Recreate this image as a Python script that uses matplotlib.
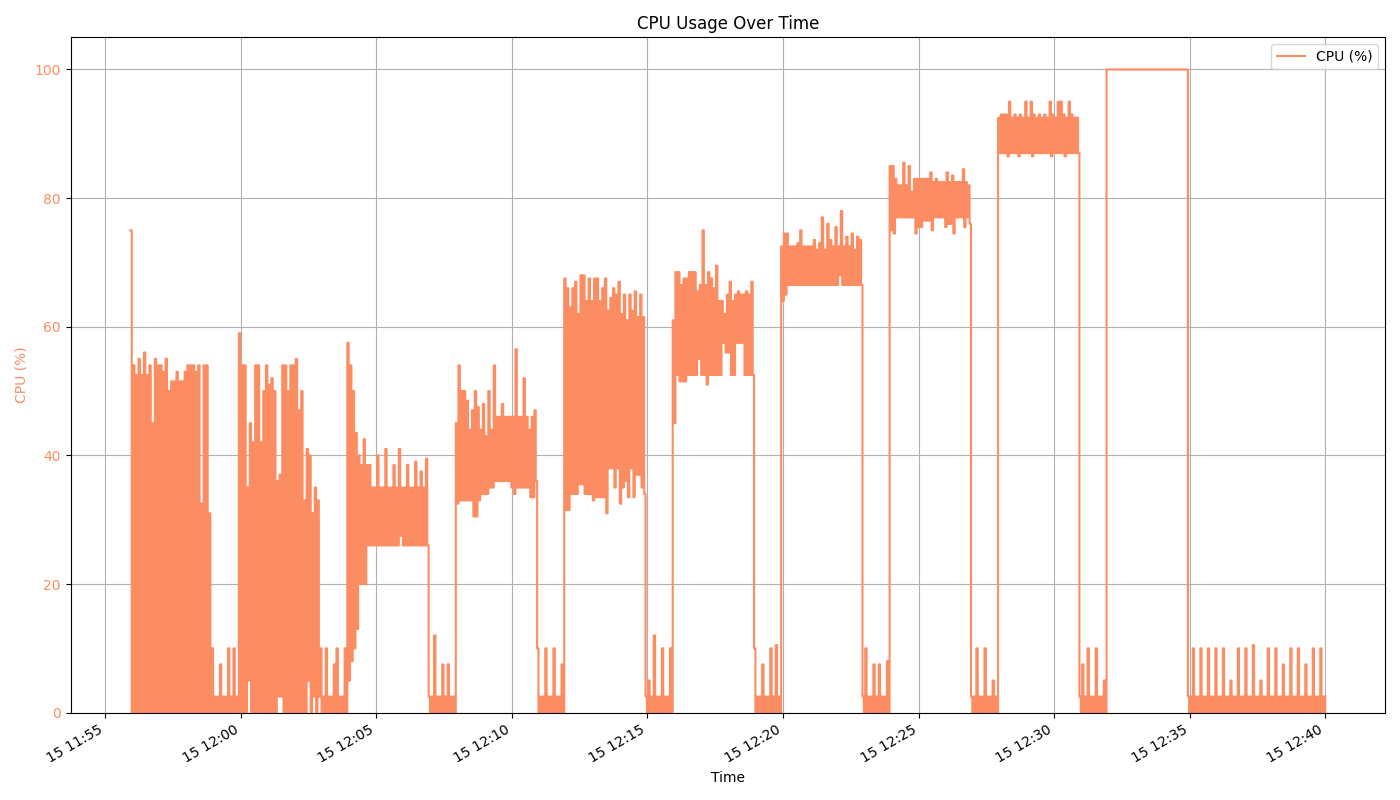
import numpy as np
import matplotlib
matplotlib.use("Agg")
import matplotlib.pyplot as plt
import matplotlib.dates as mdates

color = "#fc8d62"
t0 = np.datetime64("2024-05-15T11:55:56")

# each phase: length in seconds, upper and lower readings
# load 1
dur1 = 180
hi1 = [75, 54, 52.5, 55, 52.5, 56, 52.5, 54, 45, 55, 54, 54, 53, 55, 50, 51.5, 51.5, 53, 51.5, 51.5, 53, 54, 54, 54, 53, 54, 32.5, 54, 54, 31]
lo1 = [0, 0, 0, 0, 0, 0, 0, 0, 0, 0, 0, 0, 0, 0, 0, 0, 0, 0, 0, 0, 0, 0, 0, 0, 0, 0, 0, 0, 0, 0]
# idle
dur2 = 60
hi2 = [10, 2.5, 2.5, 7.5, 2.5, 2.5, 10, 2.5, 10, 2.5]
lo2 = [0, 0, 0, 0, 0, 0, 0, 0, 0, 0]
# load 2
dur3 = 180
hi3 = [59, 54, 54, 35, 45, 42, 54, 54, 42, 50, 54, 51, 52, 50, 36, 37, 54, 54, 50, 54, 54, 55, 47, 50, 33, 41, 40, 31, 35, 33]
lo3 = [0, 0, 0, 5, 0, 0, 0, 0, 0, 0, 0, 0, 0, 0, 2.5, 2.5, 0, 0, 0, 0, 0, 0, 0, 0, 0, 5, 0, 2.5, 0, 2.5]
dur4 = 60
hi4 = [10, 2.5, 10, 2.5, 2.5, 7.5, 10, 2.5, 2.5, 10]
lo4 = [0, 0, 0, 0, 0, 0, 0, 0, 0, 0]
# load 3
dur5 = 180
hi5 = [57.5, 54, 50, 43.5, 40, 38.5, 42.5, 38.5, 38.5, 35, 35, 40, 35, 35, 41, 35, 35, 38.5, 35, 41, 35, 35, 38.5, 35, 35, 39, 35, 37.5, 35, 39.5]
lo5 = [5, 8, 10, 13, 20, 20, 20, 26, 26, 26, 26, 26, 26, 26, 26, 26, 26, 26, 26, 27.5, 26, 26, 26, 26, 26, 26, 26, 26, 26, 26]
dur6 = 60
hi6 = [2.5, 2.5, 12, 2.5, 2.5, 7.5, 2.5, 7.5, 2.5, 2.5]
lo6 = [0, 0, 0, 0, 0, 0, 0, 0, 0, 0]
# load 4
dur7 = 180
hi7 = [45, 54, 50, 50, 48.5, 44, 47, 50, 47.5, 44, 48, 43, 50, 44, 54, 46, 46, 48, 46, 46, 46, 46, 56.5, 46, 46, 52, 46, 44, 46, 47]
lo7 = [32.5, 33, 33, 33, 33, 33, 30.5, 30.5, 33, 34, 34, 34, 35, 35, 36, 36, 36, 36, 36, 36, 35, 34, 35, 35, 35, 35, 35, 33.5, 33.5, 36]
dur8 = 60
hi8 = [10, 2.5, 2.5, 10, 2.5, 2.5, 10, 2.5, 2.5, 7.5]
lo8 = [0, 0, 0, 0, 0, 0, 0, 0, 0, 0]
# load 5
dur9 = 180
hi9 = [67.5, 66, 63, 66, 67, 62, 68, 68, 64, 67.5, 64, 67.5, 67.5, 64, 66, 67.5, 62.5, 64.5, 66, 65, 67, 62, 65, 61, 65, 62.5, 65.5, 61.5, 65, 61.5]
lo9 = [31.5, 31.5, 34, 34, 34, 35.5, 35.5, 34, 34, 34, 33, 33.5, 33.5, 33.5, 33.5, 31, 38, 38, 35, 38, 32.5, 35, 36, 33.5, 38, 33.5, 37, 37, 35, 34]
dur10 = 60
hi10 = [2.5, 5, 2.5, 12, 2.5, 2.5, 10, 2.5, 2.5, 10]
lo10 = [0, 0, 0, 0, 0, 0, 0, 0, 0, 0]
# load 6
dur11 = 180
hi11 = [61, 68.5, 68.5, 66.5, 67.5, 67.5, 68.5, 68.5, 68.5, 65.5, 66.5, 75, 66.5, 68.5, 67.5, 66, 69.5, 64, 64, 62, 65, 67, 64, 65, 65.5, 65, 65, 65.5, 65, 67]
lo11 = [45, 52.5, 51.5, 51.5, 51.5, 52.5, 52.5, 52.5, 52.5, 55, 52.5, 52.5, 51, 52.5, 52.5, 52.5, 52.5, 52.5, 57.5, 56, 56, 52.5, 52.5, 57.5, 57.5, 57.5, 52.5, 52.5, 52.5, 52.5]
dur12 = 60
hi12 = [10, 2.5, 2.5, 7.5, 2.5, 2.5, 10, 2.5, 10.5, 2.5]
lo12 = [0, 0, 0, 0, 0, 0, 0, 0, 0, 0]
# load 7
dur13 = 180
hi13 = [72.5, 74.5, 74.5, 72.5, 72.5, 72.5, 73, 75, 72.5, 72.5, 72.5, 72.5, 73.5, 72, 73, 77, 72, 76, 73.5, 72.5, 75.5, 72.5, 78, 72.5, 74, 72.5, 74.5, 72, 74, 73.5]
lo13 = [64, 65, 66.5, 66.5, 66.5, 66.5, 66.5, 66.5, 66.5, 66.5, 66.5, 66.5, 66.5, 66.5, 66.5, 66.5, 66.5, 66.5, 66.5, 66.5, 66.5, 68, 66.5, 66.5, 66.5, 66.5, 66.5, 66.5, 66.5, 66.5]
dur14 = 60
hi14 = [2.5, 10, 2.5, 2.5, 7.5, 2.5, 7.5, 2.5, 2.5, 8]
lo14 = [0, 0, 0, 0, 0, 0, 0, 0, 0, 0]
# load 8
dur15 = 180
hi15 = [85, 85, 83, 82, 82, 85.5, 82, 85, 81, 83, 83, 83, 83, 83, 83, 84, 82.5, 83, 82.5, 82.5, 82.5, 84, 82.5, 83.5, 82.5, 82.5, 82.5, 84.5, 82.5, 82]
lo15 = [75, 74.5, 77, 77, 77, 77, 77, 77, 77, 74.5, 75.5, 75.5, 76.5, 76.5, 76.5, 75, 77, 77, 77, 77, 75.5, 76, 76, 74.5, 77, 77, 77, 75.5, 77, 76]
dur16 = 60
hi16 = [2.5, 2.5, 10, 2.5, 2.5, 10, 2.5, 2.5, 5, 2.5]
lo16 = [0, 0, 0, 0, 0, 0, 0, 0, 0, 0]
# load 9
dur17 = 180
hi17 = [92.5, 93, 93, 93, 95, 92.5, 93, 92.5, 93, 92.5, 95, 92.5, 95, 93, 92.5, 93, 92.5, 93, 92.5, 95, 93, 92.5, 95, 95, 93, 92.5, 95, 93, 92.5, 92.5]
lo17 = [87, 87, 87, 86.5, 87, 87, 87, 86.5, 87, 87, 87, 87, 86.5, 87, 87, 87, 87, 87, 87, 86.5, 87, 87, 87, 87, 86.5, 87, 87, 87, 87, 87]
dur18 = 60
hi18 = [2.5, 7.5, 2.5, 10, 2.5, 2.5, 10, 2.5, 2.5, 5]
lo18 = [0, 0, 0, 0, 0, 0, 0, 0, 0, 0]
# load 10 (full)
dur19 = 180
hi19 = [100, 100]
lo19 = [100, 100]
# idle tail
dur20 = 304
hi20 = [2.5, 2.5, 10, 2.5, 2.5, 10, 2.5, 2.5, 10, 2.5, 2.5, 10, 2.5, 2.5, 10, 2.5, 2.5, 5, 2.5, 2.5,
        10, 2.5, 2.5, 10, 2.5, 2.5, 10.5, 2.5, 2.5, 5, 2.5, 2.5, 10, 2.5, 2.5, 10, 2.5, 2.5, 7.5, 2.5,
        2.5, 10, 2.5, 2.5, 10, 2.5, 2.5, 7.5, 2.5, 2.5, 10, 2.5, 2.5, 10, 2.5]
lo20 = [0, 0, 0, 0, 0, 0, 0, 0, 0, 0, 0, 0, 0, 0, 0, 0, 0, 0, 0, 0,
        0, 0, 0, 0, 0, 0, 0, 0, 0, 0, 0, 0, 0, 0, 0, 0, 0, 0, 0, 0,
        0, 0, 0, 0, 0, 0, 0, 0, 0, 0, 0, 0, 0, 0, 0]

phases = [(dur1, hi1, lo1), (dur2, hi2, lo2), (dur3, hi3, lo3), (dur4, hi4, lo4),
          (dur5, hi5, lo5), (dur6, hi6, lo6), (dur7, hi7, lo7), (dur8, hi8, lo8),
          (dur9, hi9, lo9), (dur10, hi10, lo10), (dur11, hi11, lo11), (dur12, hi12, lo12),
          (dur13, hi13, lo13), (dur14, hi14, lo14), (dur15, hi15, lo15), (dur16, hi16, lo16),
          (dur17, hi17, lo17), (dur18, hi18, lo18), (dur19, hi19, lo19), (dur20, hi20, lo20)]

times = []
cpu = []
start = t0
for dur, hi, lo in phases:
    n = len(hi)
    step = dur * 1000 / (2 * n)  # ms between readings
    for i in range(n):
        times.append(start + np.timedelta64(int(2 * i * step), "ms"))
        cpu.append(hi[i])
        times.append(start + np.timedelta64(int((2 * i + 1) * step), "ms"))
        cpu.append(lo[i])
    start = start + np.timedelta64(dur, "s")
times.append(start)
cpu.append(hi20[-1])

times = np.array(times, dtype="datetime64[ms]").astype("O")

fig, ax = plt.subplots(figsize=(14, 8), dpi=100)
# readings are held until the next one comes in
ax.plot(times, cpu, color=color, label="CPU (%)", drawstyle="steps-post")
ax.set_ylim(bottom=0)
ax.set_title("CPU Usage Over Time")
ax.set_xlabel("Time")
ax.set_ylabel("CPU (%)", color=color)
ax.tick_params(axis="y", labelcolor=color)
ax.xaxis.set_major_locator(mdates.MinuteLocator(byminute=range(0, 60, 5)))
ax.xaxis.set_major_formatter(mdates.DateFormatter("%d %H:%M"))
ax.grid(True)
ax.legend(loc="upper right")
fig.autofmt_xdate()
fig.tight_layout()
fig.savefig("out.png")
